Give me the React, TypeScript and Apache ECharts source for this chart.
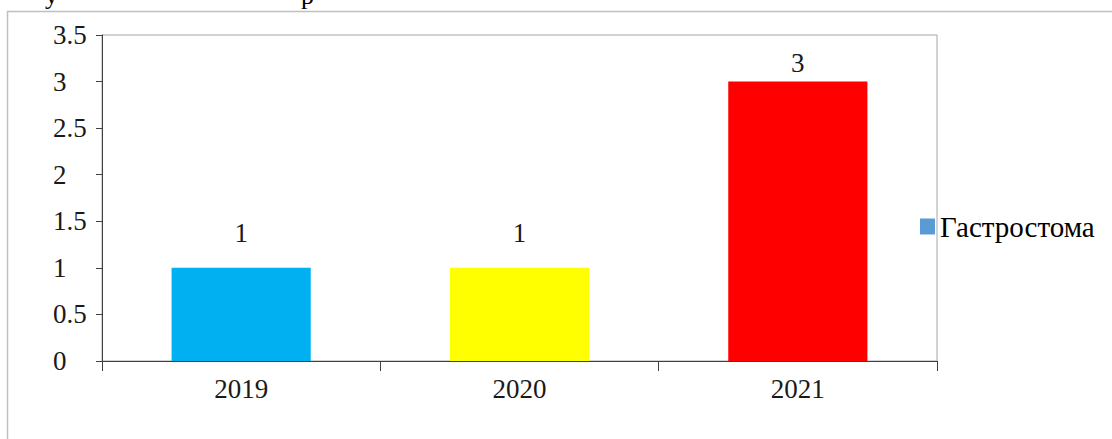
import React, { useEffect, useRef } from "react";
import * as echarts from "echarts";

const categories = ["2019", "2020", "2021"];
const values = [1, 1, 3];
const barColors = ["#00B0F0", "#FFFF00", "#FF0000"];
const seriesName = "Гастростома";
const yMin = 0;
const yMax = 3.5;
const yInterval = 0.5;

const FONT = "Liberation Serif";

export default function App() {
  const ref = useRef<HTMLDivElement>(null);
  useEffect(() => {
    document.body.style.margin = "0";
    if (!ref.current) return;
    const chart = echarts.init(ref.current, null, { renderer: "svg" });
    const labelDist = [21, 21, 5];
    chart.setOption({
      animation: false,
      backgroundColor: "#ffffff",
      grid: {
        left: 102,
        top: 35,
        right: 175,
        bottom: 78,
        show: true,
        borderColor: "#a6a6a6",
        borderWidth: 1,
        backgroundColor: "transparent",
      },
      legend: {
        data: [seriesName],
        orient: "vertical",
        left: 920,
        top: 212,
        icon: "rect",
        itemWidth: 15,
        itemHeight: 16,
        itemGap: 0,
        padding: 0,
        textStyle: { fontFamily: FONT, fontSize: 29, color: "#000000" },
      },
      xAxis: {
        type: "category",
        data: categories,
        axisLine: { lineStyle: { color: "#404040", width: 1 } },
        axisTick: { show: true, length: 10, alignWithLabel: false, lineStyle: { color: "#404040" } },
        axisLabel: { fontFamily: FONT, fontSize: 27, color: "#1a1a1a", margin: 14 },
        splitLine: { show: false },
      },
      yAxis: {
        type: "value",
        min: yMin,
        max: yMax,
        interval: yInterval,
        axisLine: { show: true, lineStyle: { color: "#404040", width: 1 } },
        axisTick: { show: true, length: 6, lineStyle: { color: "#404040" } },
        axisLabel: { fontFamily: FONT, fontSize: 27, color: "#1a1a1a", align: "left", margin: 49 },
        splitLine: { show: false },
      },
      series: [
        {
          name: seriesName,
          type: "bar",
          barWidth: "50%",
          itemStyle: { color: "#5B9BD5" },
          data: values.map((v, i) => ({
            value: v,
            itemStyle: { color: barColors[i] },
            label: {
              show: true,
              position: "top",
              distance: labelDist[i],
              fontFamily: FONT,
              fontSize: 27,
              color: "#1a1a1a",
            },
          })),
        },
      ],
      graphic: [
        {
          type: "rect",
          shape: { x: 7.5, y: 11.5, width: 1200, height: 600 },
          style: { fill: "none", stroke: "#c0c0c0", lineWidth: 1.5 },
          silent: true,
        },
        {
          type: "text",
          x: 45,
          y: 8,
          style: { text: "у", fontFamily: FONT, fontSize: 26, fill: "#000", verticalAlign: "bottom" },
          silent: true,
        },
        {
          type: "text",
          x: 301,
          y: 8,
          style: { text: "р", fontFamily: FONT, fontSize: 26, fill: "#000", verticalAlign: "bottom" },
          silent: true,
        },
      ],
    });
    return () => chart.dispose();
  }, []);
  return <div ref={ref} style={{ width: 1112, height: 439 }} />;
}
